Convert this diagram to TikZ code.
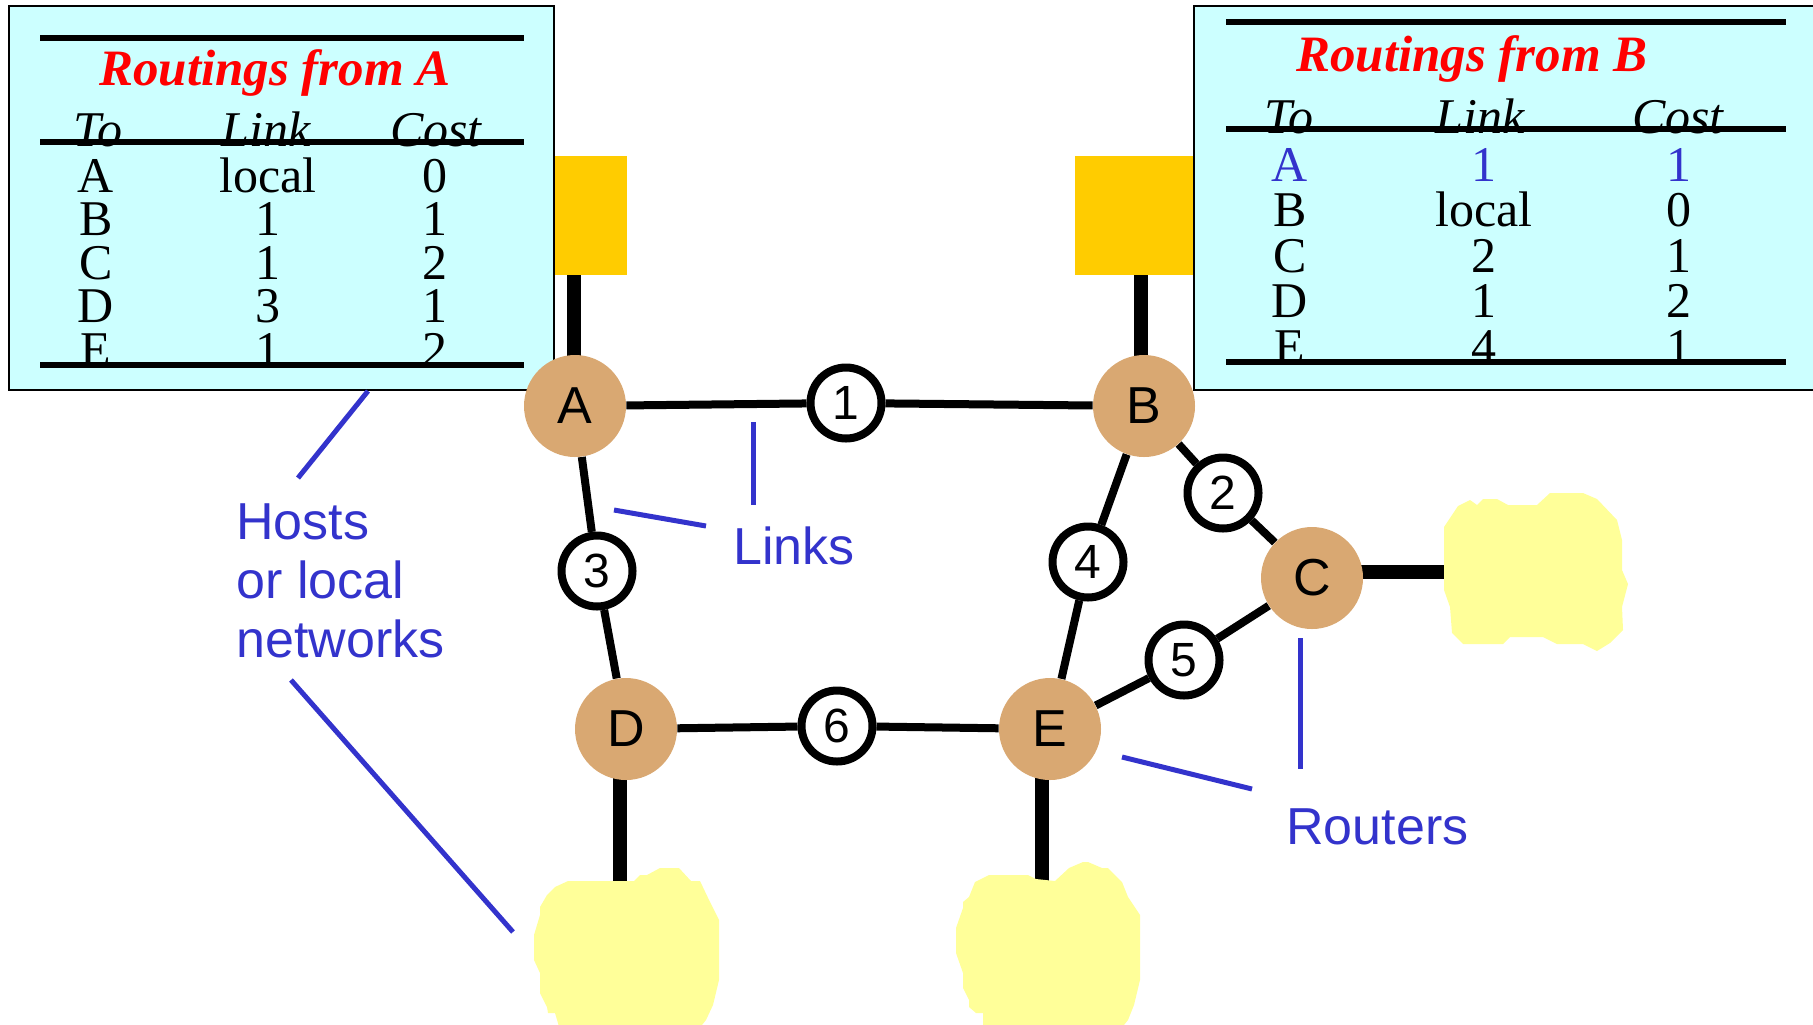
\documentclass[tikz,border=0pt]{standalone}
\usepackage{fontspec}
\setmainfont{Liberation Serif}
\setsansfont{Liberation Sans}
\usetikzlibrary{backgrounds}
\definecolor{routerfill}{RGB}{217,168,114}
\definecolor{hostfill}{RGB}{255,204,0}
\definecolor{netfill}{RGB}{255,255,153}
\definecolor{tablefill}{RGB}{204,255,255}
\definecolor{ptblue}{RGB}{51,51,204}

\begin{document}
\begin{tikzpicture}[x=0.5pt, y=-0.5pt,
    router/.style={circle, fill=routerfill, minimum size=51pt, inner sep=0pt, font=\sffamily\fontsize{26}{26}\selectfont},
    linkno/.style={circle, draw, line width=4pt, fill=white, minimum size=35.5pt, inner sep=0pt, font=\sffamily\fontsize{24}{24}\selectfont},
    wire/.style={line width=4pt},
    stem/.style={line width=7pt},
    pointer/.style={ptblue, line width=2.5pt},
    callout/.style={text=ptblue, inner sep=0pt, anchor=base west, font=\sffamily\fontsize{26}{29.5}\selectfont},
    cell/.style={anchor=base, inner sep=0pt, font=\fontsize{25}{25}\selectfont},
    tabhead/.style={cell, font=\itshape\fontsize{25}{25}\selectfont},
    tabtitle/.style={anchor=base, inner sep=0pt, text=red, font=\bfseries\itshape\fontsize{25.5}{25.5}\selectfont},
    rule/.style={line width=2.8pt}]
    \useasboundingbox (0, 0) rectangle (1813, 1024);

    \fill[hostfill] (509, 156) rectangle (627, 275);
    \fill[hostfill] (1075, 156) rectangle (1193, 275);

    \filldraw[fill=tablefill, line width=1pt] (9, 6) rectangle (554, 390);
    \draw[rule] (40, 38) -- (524, 38);
    \node[tabtitle] (titA) at (275, 85) {Routings from A};
    \node[tabhead] (toA) at (98, 146) {To};
    \node[tabhead] (linkA) at (266, 146) {Link};
    \node[tabhead] (costA) at (436, 146) {Cost};
    \draw[rule] (40, 142) -- (524, 142);
    \foreach \dest/\via/\cost [count=\i from 0] in {A/local/0, B/1/1, C/1/2, D/3/1, E/1/2} {
        \node[cell] (a-\i-to) at (96, 192 + 43.5*\i) {\dest};
        \node[cell] (a-\i-via) at (268, 192 + 43.5*\i) {\via};
        \node[cell] (a-\i-cost) at (435, 192 + 43.5*\i) {\cost};
    }
    \draw[rule] (40, 365) -- (524, 365);

    \filldraw[fill=tablefill, line width=1pt] (1194, 6) rectangle (1830, 390);
    \draw[rule] (1226, 22) -- (1786, 22);
    \node[tabtitle] (titB) at (1472, 71) {Routings from B};
    \node[tabhead] (toB) at (1289, 133) {To};
    \node[tabhead] (linkB) at (1480, 133) {Link};
    \node[tabhead] (costB) at (1678, 133) {Cost};
    \draw[rule] (1226, 129) -- (1786, 129);
    \foreach \dest/\via/\cost/\ink [count=\i from 0] in {A/1/1/ptblue, B/local/0/black, C/2/1/black, D/1/2/black, E/4/1/black} {
        \node[cell, text=\ink] (b-\i-to) at (1290, 181 + 45.5*\i) {\dest};
        \node[cell, text=\ink] (b-\i-via) at (1484, 181 + 45.5*\i) {\via};
        \node[cell, text=\ink] (b-\i-cost) at (1679, 181 + 45.5*\i) {\cost};
    }
    \draw[rule] (1226, 362) -- (1786, 362);

    \fill[netfill] (1444,527) -- (1458,506) -- (1470,500) -- (1477,505) -- (1483,499) -- (1497,499)
        -- (1508,505) -- (1537,505) -- (1550,493) -- (1583,493) -- (1597,499) -- (1617,520)
        -- (1622,540) -- (1622,570) -- (1628,584) -- (1622,607) -- (1623,630) -- (1610,643)
        -- (1597,651) -- (1583,644) -- (1557,644) -- (1543,637) -- (1510,637) -- (1503,644)
        -- (1463,644) -- (1452,633) -- (1450,607) -- (1444,590) -- cycle;
    \fill[netfill] (534,935) -- (540,915) -- (540,907) -- (547,895) -- (555,887) -- (568,881)
        -- (634,881) -- (640,875) -- (647,875) -- (660,868) -- (679,868) -- (691,881)
        -- (700,881) -- (710,902) -- (719,920) -- (719,980) -- (713,1005) -- (706,1020)
        -- (698,1030) -- (560,1030) -- (555,1013) -- (548,1013) -- (547,1007) -- (540,993)
        -- (540,973) -- (534,960) -- cycle;
    \fill[netfill] (956,953) -- (956,928) -- (963,908) -- (963,902) -- (969,897) -- (975,882)
        -- (989,875) -- (1028,875) -- (1036,879) -- (1055,881) -- (1069,868) -- (1083,862)
        -- (1088,862) -- (1102,868) -- (1108,868) -- (1122,882) -- (1128,897) -- (1140,915)
        -- (1140,980) -- (1134,1005) -- (1128,1020) -- (1120,1030) -- (983,1030) -- (983,1013)
        -- (976,1013) -- (969,1007) -- (969,1000) -- (963,988) -- (963,973) -- cycle;

    \coordinate (hA) at (574, 262);
    \coordinate (hB) at (1141, 275);
    \coordinate (netC) at (1445, 572);
    \coordinate (netD) at (620, 882);
    \coordinate (netE) at (1042, 882);

    \node[router] (A) at (575, 406) {A};
    \node[router] (B) at (1144, 406) {B};
    \node[router] (C) at (1312, 578) {C};
    \node[router] (D) at (626, 729) {D};
    \node[router] (E) at (1050, 729) {E};
    \node[linkno] (l1) at (846, 403) {1};
    \node[linkno] (l2) at (1223, 493) {2};
    \node[linkno] (l3) at (597, 571) {3};
    \node[linkno] (l4) at (1088, 562) {4};
    \node[linkno] (l5) at (1184, 660) {5};
    \node[linkno] (l6) at (837, 726) {6};

    \begin{scope}[on background layer]
        \draw[wire] (A) -- (l1) -- (B);
        \draw[wire] (B) -- (l2) -- (C);
        \draw[wire] (A) -- (l3) -- (D);
        \draw[wire] (B) -- (l4) -- (E);
        \draw[wire] (E) -- (l5) -- (C);
        \draw[wire] (D) -- (l6) -- (E);
        \draw[stem] (hA) -- (hA |- A);
        \draw[stem] (hB) -- (hB |- B);
        \draw[stem] (netC) -- (netC -| C);
        \draw[stem] (netD) -- (netD |- D);
        \draw[stem] (netE) -- (netE |- E);
    \end{scope}

    \draw[pointer] (368, 391) -- (298, 478);
    \draw[pointer] (291, 680) -- (513, 932);
    \draw[pointer] (753, 422) -- (753, 505);
    \draw[pointer] (614, 510) -- (706, 526);
    \draw[pointer] (1300, 638) -- (1300, 769);
    \draw[pointer] (1122, 757) -- (1252, 789);
    \node[callout, align=left] (hosts) at (236, 657) {Hosts\\or local\\networks};
    \node[callout] (links) at (733, 564) {Links};
    \node[callout] (routers) at (1286, 844) {Routers};
\end{tikzpicture}
\end{document}
